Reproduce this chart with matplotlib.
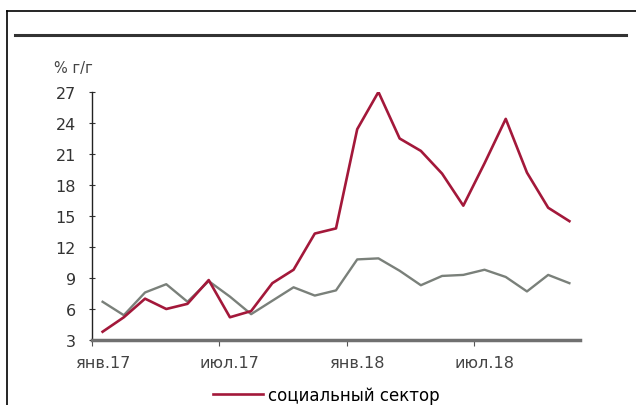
import numpy as np
import matplotlib
matplotlib.use('Agg')
import matplotlib.pyplot as plt
from matplotlib.lines import Line2D

months = np.arange(23)
month_labels = ['янв.17', 'июл.17', 'янв.18', 'июл.18']
label_pos = [0, 6, 12, 18]

social = [3.8, 5.2, 7.0, 6.0, 6.5, 8.8, 5.2, 5.8, 8.5, 9.8, 13.3, 13.8,
          23.4, 27.0, 22.5, 21.3, 19.1, 16.0, 20.1, 24.4, 19.2, 15.8, 14.5]
other = [6.7, 5.4, 7.6, 8.4, 6.7, 8.7, 7.2, 5.5, 6.8, 8.1, 7.3, 7.8,
         10.8, 10.9, 9.7, 8.3, 9.2, 9.3, 9.8, 9.1, 7.7, 9.3, 8.5]

plt.rcParams['font.family'] = ['DejaVu Sans']

fig = plt.figure(figsize=(6.36, 4.06), dpi=100)
ax = fig.add_axes([92/636, 1-341/406, (580-92)/636, (341-93)/406])

ax.plot(months, other, color='#7a807a', lw=1.7, label='_nolegend_')
ax.plot(months, social, color='#a3183a', lw=1.9, label='социальный сектор')

ax.set_xlim(-0.5, 22.5)
ax.set_ylim(3, 27)
ax.set_yticks(np.arange(3, 28, 3))
ax.tick_params(axis='y', direction='inout', length=5, labelsize=11.5, pad=9, colors='#333333')
ax.set_xticks([-0.5, 5.5, 11.5, 17.5])
ax.set_xticklabels([])
ax.tick_params(axis='x', which='major', direction='out', length=4, color='#555555')
ax.set_xticks(label_pos, minor=True)
ax.set_xticklabels(month_labels, minor=True)
ax.tick_params(axis='x', which='minor', length=0, labelsize=11.5, pad=11, colors='#444444')

for s in ['top', 'right']:
    ax.spines[s].set_visible(False)
ax.spines['left'].set_color('#222222')
ax.spines['left'].set_linewidth(1.0)
ax.spines['bottom'].set_color('#707070')
ax.spines['bottom'].set_linewidth(2.5)

fig.text(54/636, 1-68/406, '% г/г', fontsize=10.5, color='#444444', va='center')

fig.legend(loc='center left', bbox_to_anchor=(206/636, 1-396/406), frameon=False,
           handlelength=3.0, fontsize=12, borderaxespad=0, handletextpad=0.3)

# frame lines
fig.add_artist(Line2D([7/636, 1], [1-12/406, 1-12/406], color='black', lw=1.2))
fig.add_artist(Line2D([7/636, 7/636], [0, 1-12/406], color='black', lw=1.2))
fig.add_artist(Line2D([15/636, 626/636], [1-36/406, 1-36/406], color='#333333', lw=2.2))

fig.savefig('out.png', dpi=100)
